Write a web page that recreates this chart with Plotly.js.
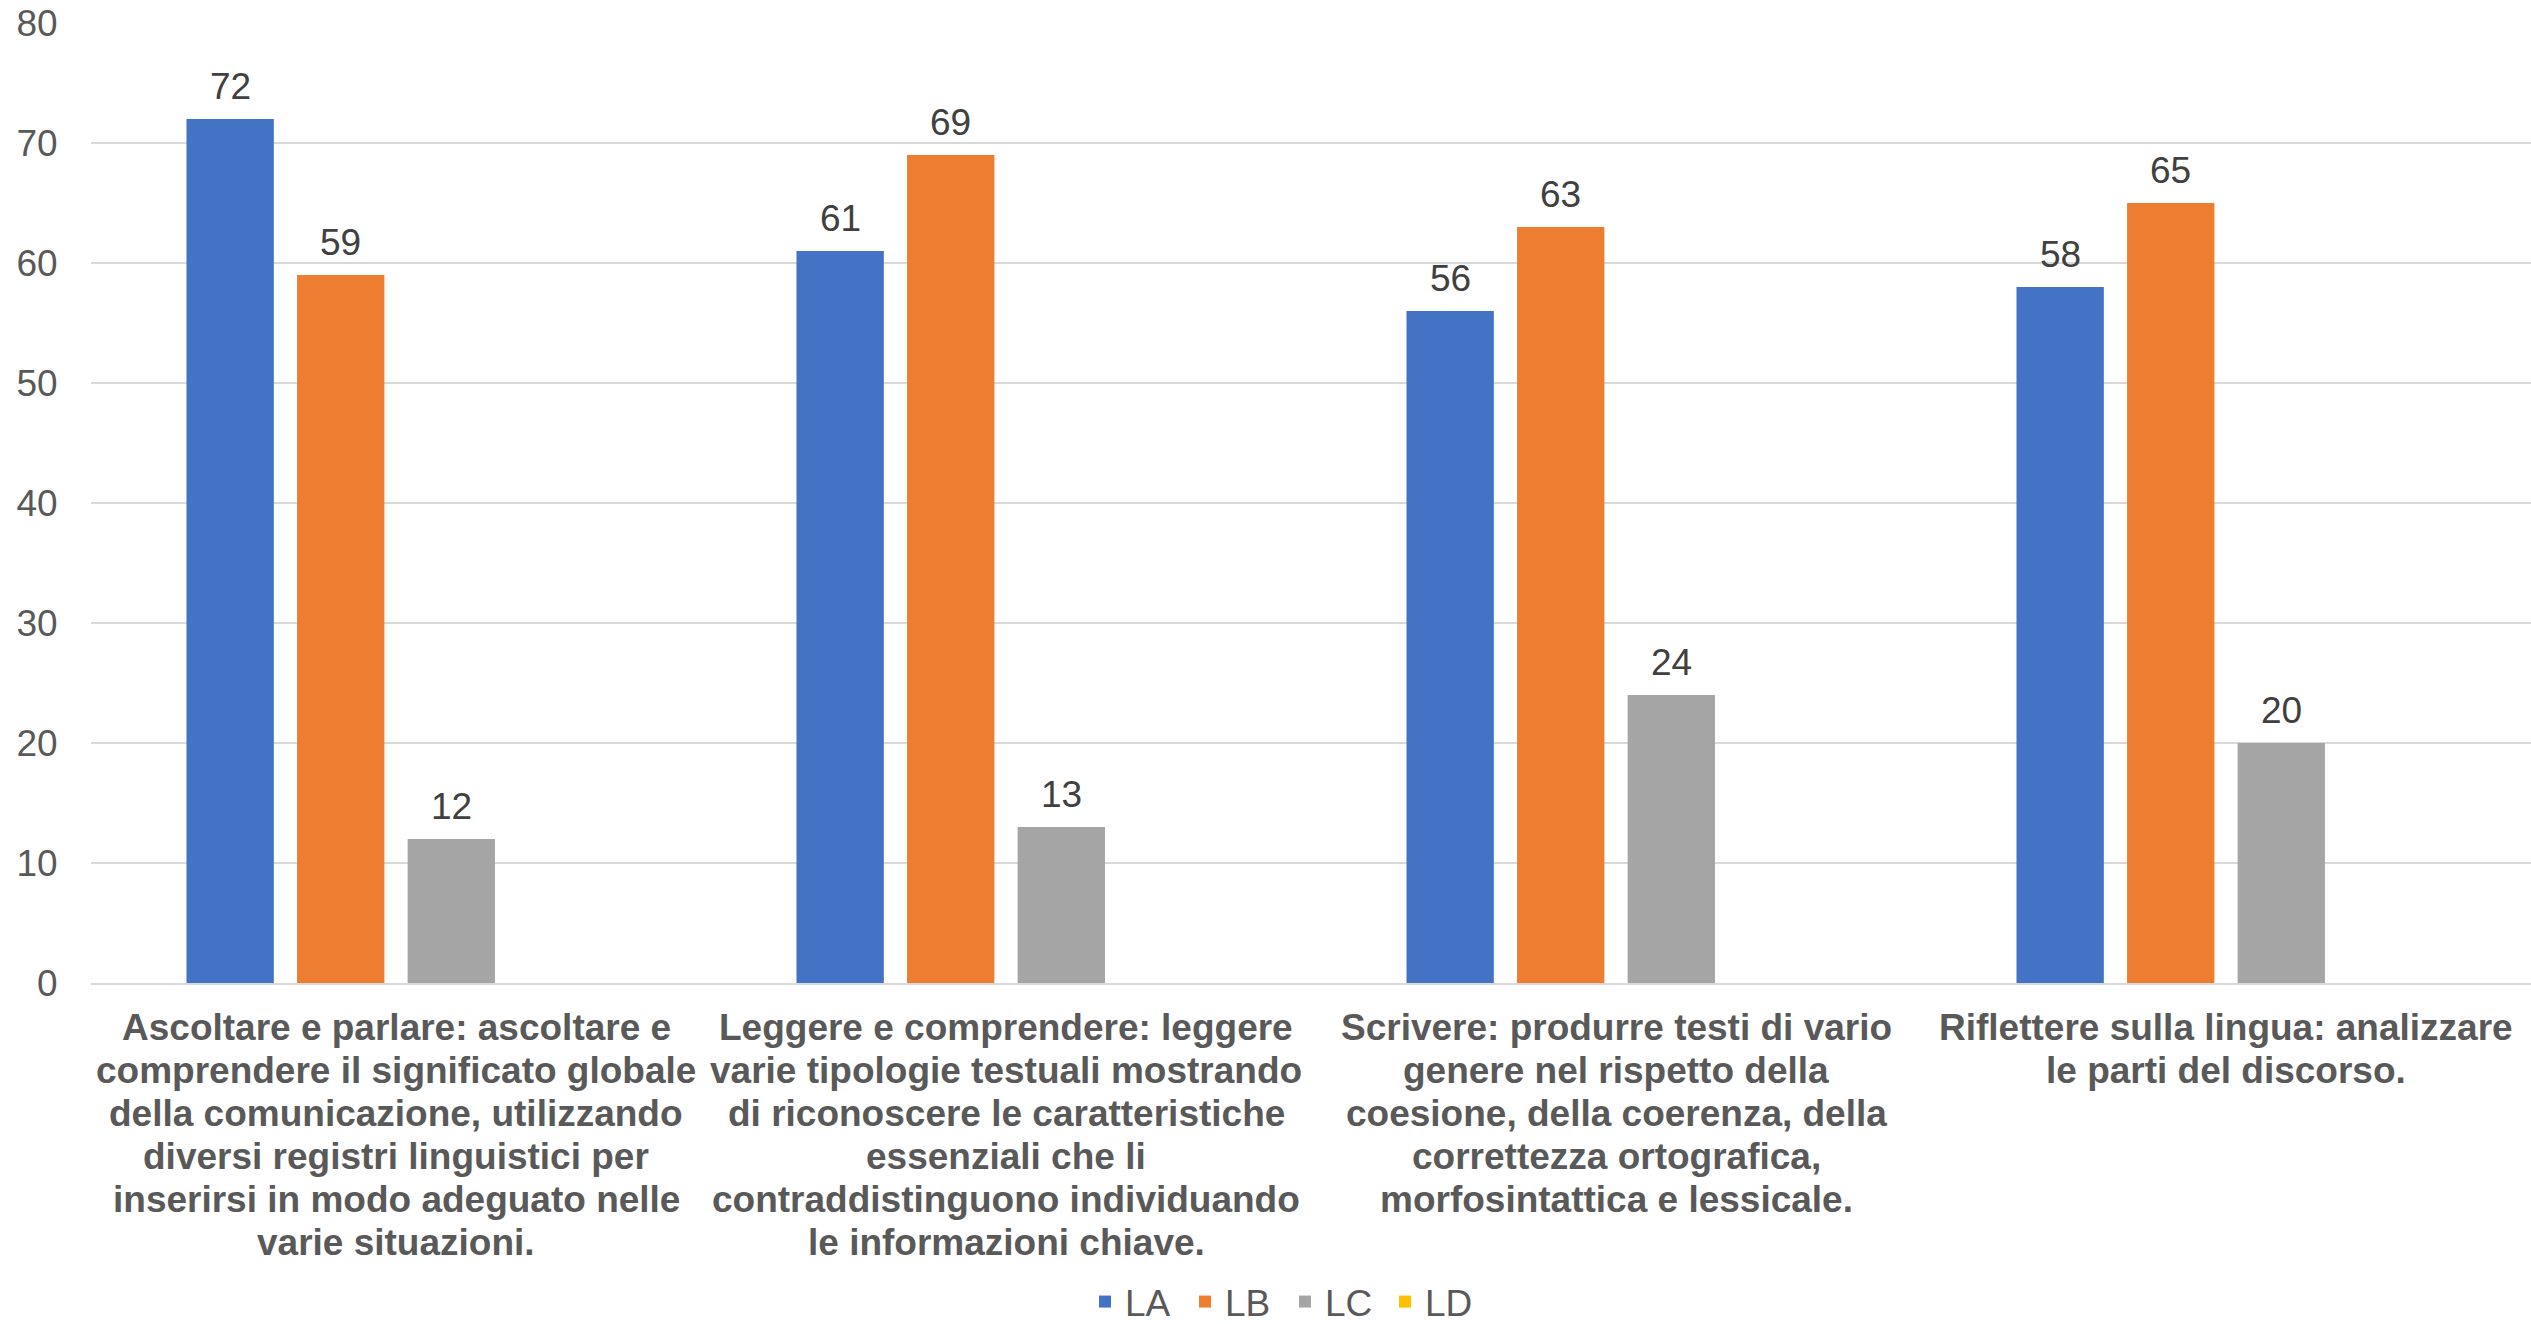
<!DOCTYPE html>
<html>
<head>
<meta charset="utf-8">
<script src="https://cdn.plot.ly/plotly-3.0.1.min.js"></script>
<style>html,body{margin:0;padding:0;background:#fff;}#chart{width:2531px;height:1324px;}</style>
</head>
<body>
<div id="chart"></div>
<script>
const categories = [
  "Ascoltare e parlare: ascoltare e<br>comprendere il significato globale<br>della comunicazione, utilizzando<br>diversi registri linguistici per<br>inserirsi in modo adeguato nelle<br>varie situazioni.",
  "Leggere e comprendere: leggere<br>varie tipologie testuali mostrando<br>di riconoscere le caratteristiche<br>essenziali che li<br>contraddistinguono individuando<br>le informazioni chiave.",
  "Scrivere: produrre testi di vario<br>genere nel rispetto della<br>coesione, della coerenza, della<br>correttezza ortografica,<br>morfosintattica e lessicale.",
  "Riflettere sulla lingua: analizzare<br>le parti del discorso."
];
const seriesNames = ["LA", "LB", "LC", "LD"];
const LA = [72, 61, 56, 58];
const LB = [59, 69, 63, 65];
const LC = [12, 13, 24, 20];
const LD = [null, null, null, null];
const colors = ["#4472C4", "#ED7D31", "#A5A5A5", "#FFC000"];
const yTicks = [0, 10, 20, 30, 40, 50, 60, 70, 80];

const FONT = '"Liberation Sans", Arial, sans-serif';
const allSeries = [LA, LB, LC, LD];
const traces = allSeries.map((vals, i) => ({
  type: 'bar',
  name: seriesNames[i],
  x: categories,
  y: vals,
  marker: {color: colors[i]},
  hoverinfo: 'none'
}));

const layout = {
  width: 2531,
  height: 1324,
  margin: {l: 91, r: 0, t: 23, b: 341},
  paper_bgcolor: '#ffffff',
  plot_bgcolor: '#ffffff',
  barmode: 'group',
  bargap: 0.275,
  bargroupgap: 0.21,
  showlegend: true,
  legend: {
    orientation: 'h',
    xref: 'container', yref: 'container',
    x: 0.5077, xanchor: 'center',
    y: 0.0166, yanchor: 'middle',
    entrywidth: 55, entrywidthmode: 'pixels',
    font: {family: FONT, size: 37, color: '#595959'},
    traceorder: 'normal'
  },
  xaxis: {
    type: 'category',
    showticklabels: false,
    ticks: '',
    showline: true, linecolor: '#d9d9d9', linewidth: 2,
    showgrid: false,
    automargin: false
  },
  yaxis: {
    range: [0, 80],
    tickvals: yTicks,
    ticktext: yTicks.map(String),
    tickfont: {family: FONT, size: 37, color: '#595959'},
    ticks: 'outside', ticklen: 25, tickcolor: 'rgba(0,0,0,0)',
    showgrid: true, gridcolor: '#d9d9d9', gridwidth: 2,
    zeroline: false, showline: false,
    automargin: false
  },
  font: {family: FONT}
};

const gd = document.getElementById('chart');
Plotly.newPlot(gd, traces, layout, {displayModeBar: false, staticPlot: true}).then(() => {
  const ann = [];
  // data labels above each bar, at the bar centres computed by Plotly
  gd.calcdata.forEach((cd, t) => {
    cd.forEach((d, k) => {
      const v = allSeries[t][k];
      if (v === null || v === undefined) return;
      ann.push({
        xref: 'x', yref: 'y', x: d.x, y: v,
        text: String(v), showarrow: false,
        xanchor: 'center', yanchor: 'bottom', yshift: 10,
        font: {family: FONT, size: 37, color: '#404040'}
      });
    });
  });
  // category labels, one annotation per line for Excel-like line spacing
  categories.forEach((cat, k) => {
    cat.split('<br>').forEach((line, i) => {
      ann.push({
        xref: 'x', yref: 'paper', x: k, y: 0,
        text: line, showarrow: false,
        xanchor: 'center', yanchor: 'middle',
        yshift: -(44 + 43 * i),
        font: {family: FONT, size: 37, color: '#595959', weight: 'bold'}
      });
    });
  });
  return Plotly.relayout(gd, {annotations: ann});
});
</script>
</body>
</html>
